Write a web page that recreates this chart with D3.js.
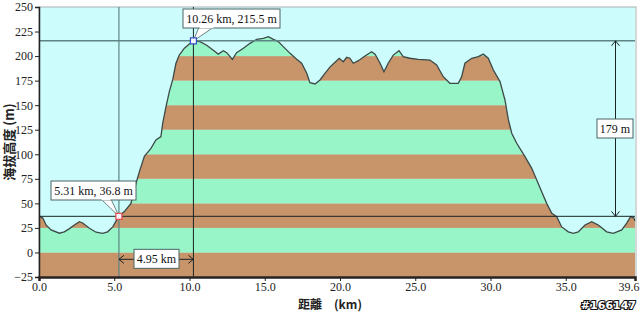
<!DOCTYPE html>
<html>
<head>
<meta charset="utf-8">
<script src="https://cdn.jsdelivr.net/npm/d3@7"></script>
<style>
  body { margin: 0; background: #fff; }
  svg text { font-family: "Liberation Serif", "DejaVu Serif", serif; }
</style>
</head>
<body>
<div id="chart"></div>
<script>
// distance (km) and elevation (m)
const distKm = [0, 0.25, 0.47, 0.8, 1.35, 1.68, 2.0, 2.35, 2.68, 2.9, 3.35, 3.79, 4.23, 4.56, 4.9, 5.23, 5.31, 5.67, 6.11, 6.45, 6.67, 7.0, 7.44, 7.77, 8.1, 8.22, 8.44, 8.66, 8.88, 9.1, 9.32, 9.66, 9.99, 10.26, 10.7, 11.14, 11.58, 11.91, 12.25, 12.47, 12.85, 13.13, 13.58, 14.02, 14.46, 14.9, 15.24, 15.57, 15.9, 16.23, 16.68, 17.12, 17.45, 17.79, 18.0, 18.34, 18.67, 19.0, 19.34, 19.67, 19.95, 20.22, 20.44, 20.66, 20.88, 21.22, 21.66, 22.1, 22.33, 22.66, 22.92, 23.2, 23.54, 23.92, 24.2, 24.65, 25.2, 25.98, 26.42, 26.86, 27.3, 27.86, 28.08, 28.3, 28.75, 29.19, 29.52, 29.85, 30.19, 30.63, 30.96, 31.19, 31.41, 31.74, 32.29, 32.74, 33.07, 33.4, 33.73, 34.07, 34.4, 34.73, 35.17, 35.5, 35.83, 36.28, 36.72, 37.16, 37.72, 38.16, 38.72, 39.05, 39.31, 39.53, 39.6];
const elevM = [37, 35, 28, 23, 19.6, 21, 24, 28, 31.4, 30, 24.6, 20.6, 19.5, 21, 26, 35, 36.8, 41.6, 50, 70.5, 82.3, 98, 106, 114.6, 118, 131.6, 148.5, 163.8, 175.7, 192.7, 201, 208, 212.3, 215.5, 214.7, 211, 206, 202, 205.5, 203.5, 196.7, 203.5, 208, 213, 217, 218, 219.8, 217, 214.7, 209.6, 202.8, 196.7, 192.7, 182.5, 173, 171.6, 175.7, 182.5, 189, 193.7, 197.8, 194.3, 198.8, 197.8, 192.7, 195.3, 200, 204.5, 202, 192.7, 184, 192.7, 201, 205.5, 199.4, 197.8, 196.7, 196, 191, 179, 172.3, 172.3, 179, 192.7, 197.8, 199.4, 202, 197.8, 185.8, 174, 155.3, 135, 121.4, 111.2, 97.6, 85.7, 73.8, 61.9, 50, 39.9, 36.5, 26, 21, 19.5, 21, 28, 31.4, 28, 21, 19.5, 23, 29.8, 36.5, 35, 32];

// colour bands (bottom edge of each 25 m band)
const bandStarts = [-25, 0, 25, 50, 75, 100, 125, 150, 175, 200, 225];
const bandColors = ["#c8946a", "#98f5c8"];

const yTicks = [-25, 0, 25, 50, 75, 100, 125, 150, 175, 200, 225, 250];
const xTicks = [0, 5, 10, 15, 20, 25, 30, 35, 39.6];

// the two picked points and the measurements between them
const pointA = { km: 5.31, m: 36.8, label: "5.31 km, 36.8 m", color: "#e04848" };
const pointB = { km: 10.26, m: 215.5, label: "10.26 km, 215.5 m", color: "#3050c8" };
const distLabel = "4.95 km";
const riseLabel = "179 m";

const W = 640, H = 313;
const margin = { top: 7, right: 5, bottom: 36, left: 39 };
const innerW = W - margin.left - margin.right;
const innerH = H - margin.top - margin.bottom;

const svg = d3.select("#chart").append("svg")
  .attr("width", W).attr("height", H);

const x = d3.scaleLinear().domain([0, 39.6]).range([margin.left, margin.left + innerW]);
const y = d3.scaleLinear().domain([-25, 250]).range([margin.top + innerH, margin.top]);

const profile = distKm.map((d, i) => ({ km: d, m: elevM[i] }));

// sky
svg.append("rect")
  .attr("x", x(0)).attr("y", y(250))
  .attr("width", x(39.6) - x(0)).attr("height", y(-25) - y(250))
  .attr("fill", "#ccfcfc");

// clip the bands to the ground under the profile
const area = d3.area().x(d => x(d.km)).y0(y(-25)).y1(d => y(d.m));
svg.append("clipPath").attr("id", "ground")
  .append("path").attr("d", area(profile));

svg.append("g").attr("clip-path", "url(#ground)")
  .selectAll("rect")
  .data(bandStarts)
  .enter().append("rect")
  .attr("x", x(0))
  .attr("width", x(39.6) - x(0))
  .attr("y", d => y(d + 25))
  .attr("height", d => y(d) - y(d + 25))
  .attr("fill", (d, i) => bandColors[i % 2]);

// profile line
svg.append("path")
  .datum(profile)
  .attr("fill", "none")
  .attr("stroke", "#3c4a48")
  .attr("stroke-width", 1.3)
  .attr("d", d3.line().x(d => x(d.km)).y(d => y(d.m)));

// frame
svg.append("rect")
  .attr("x", x(0)).attr("y", y(250))
  .attr("width", x(39.6) - x(0) + 1).attr("height", y(-25) - y(250))
  .attr("fill", "none").attr("stroke", "#a8b0b0");

// cursor lines
svg.append("line")
  .attr("x1", x(0)).attr("x2", x(39.6)).attr("y1", y(pointB.m)).attr("y2", y(pointB.m))
  .attr("stroke", "#5e8484").attr("stroke-width", 1.5);
svg.append("line")
  .attr("x1", x(pointA.km)).attr("x2", x(pointA.km)).attr("y1", y(250)).attr("y2", y(-25))
  .attr("stroke", "#5e8484").attr("stroke-width", 1.2);
svg.append("line")
  .attr("x1", x(0)).attr("x2", x(39.6)).attr("y1", y(pointA.m)).attr("y2", y(pointA.m))
  .attr("stroke", "#1a2424").attr("stroke-width", 1);
svg.append("line")
  .attr("x1", x(pointB.km)).attr("x2", x(pointB.km)).attr("y1", y(250)).attr("y2", y(-25))
  .attr("stroke", "#1a2424").attr("stroke-width", 1);

// axes
const yAxis = svg.append("g")
  .attr("transform", `translate(${x(0)},0)`)
  .call(d3.axisLeft(y).tickValues(yTicks).tickSize(4).tickPadding(2));
const xAxis = svg.append("g")
  .attr("transform", `translate(0,${y(-25)})`)
  .call(d3.axisBottom(x).tickValues(xTicks).tickSize(4).tickPadding(1)
    .tickFormat(d => d3.format(".1f")(d)));
[yAxis, xAxis].forEach(g => {
  g.selectAll("text").attr("fill", "#222").style("font-size", "12px")
    .style("font-family", "'Liberation Serif', serif");
  g.selectAll("line").attr("stroke", "#222");
});
yAxis.select(".domain").attr("stroke", "#222").attr("stroke-width", 1.5);
xAxis.select(".domain").attr("stroke", "#2a2020").attr("stroke-width", 2.5);
xAxis.select(".tick:last-of-type text").attr("text-anchor", "end").attr("dx", 4);

// axis titles
svg.append("text")
  .attr("transform", `translate(14,${(y(250) + y(-25)) / 2}) rotate(-90)`)
  .attr("text-anchor", "middle")
  .style("font-family", "'Noto Sans CJK TC', sans-serif")
  .style("font-size", "13px").style("font-weight", "bold")
  .attr("fill", "#222")
  .text("海拔高度 (m)");
svg.append("text")
  .attr("x", 330).attr("y", 309)
  .attr("text-anchor", "middle")
  .style("font-family", "'Noto Sans CJK TC', sans-serif")
  .style("font-size", "12px").style("font-weight", "bold")
  .attr("fill", "#222")
  .text("距離\u3000(km)");

// callout boxes with a tail down to the marker
function callout(p, bx, by, bw, bh, t1, t2) {
  const px = x(p.km), py = y(p.m);
  svg.append("path")
    .attr("d", `M${t1},${by + bh - 1}L${px},${py}L${t2},${by + bh - 1}`)
    .attr("fill", "#fff").attr("stroke", "#4c6464").attr("stroke-width", 0.8);
  svg.append("rect")
    .attr("x", bx).attr("y", by).attr("width", bw).attr("height", bh)
    .attr("fill", "#fff").attr("stroke", "#4c6464").attr("stroke-width", 1);
  svg.append("path")
    .attr("d", `M${t1 + 0.6},${by + bh - 0.5}L${t2 - 0.6},${by + bh - 0.5}`)
    .attr("stroke", "#fff").attr("stroke-width", 1.6);
  svg.append("text")
    .attr("x", bx + bw / 2).attr("y", by + bh / 2 + 4.5)
    .attr("text-anchor", "middle")
    .style("font-size", "12px").attr("fill", "#111")
    .text(p.label);
  svg.append("rect")
    .attr("x", px - 3).attr("y", py - 3).attr("width", 6).attr("height", 6)
    .attr("fill", "#f4f4ff").attr("stroke", p.color).attr("stroke-width", 1.2);
}
callout(pointB, 183, 9, 97, 19, 199, 214);
callout(pointA, 51, 181, 85, 19, 101, 111);

// dimension arrows
function arrowHead(x0, y0, dx, dy) {
  // open V pointing in direction (dx, dy)
  const s = 5, w = 4;
  const px = -dy, py = dx;
  return `M${x0 - dx * s + px * w},${y0 - dy * s + py * w}L${x0},${y0}L${x0 - dx * s - px * w},${y0 - dy * s - py * w}`;
}
const dimY = y(-7);
const ax = x(pointA.km), bxp = x(pointB.km);
svg.append("path")
  .attr("d", `M${ax},${dimY}L${bxp},${dimY}` + arrowHead(ax, dimY, -1, 0) + arrowHead(bxp, dimY, 1, 0))
  .attr("fill", "none").attr("stroke", "#1a2424").attr("stroke-width", 1);
svg.append("rect")
  .attr("x", 134).attr("y", dimY - 10).attr("width", 45).attr("height", 19)
  .attr("fill", "#fff").attr("stroke", "#4c6464");
svg.append("text")
  .attr("x", 156.5).attr("y", dimY + 4)
  .attr("text-anchor", "middle").style("font-size", "12px").attr("fill", "#111")
  .text(distLabel);

const dimX = 615.5;
const ya = y(pointA.m), yb = y(pointB.m);
svg.append("path")
  .attr("d", `M${dimX},${yb}L${dimX},${ya}` + arrowHead(dimX, yb, 0, -1) + arrowHead(dimX, ya, 0, 1))
  .attr("fill", "none").attr("stroke", "#1a2424").attr("stroke-width", 1);
svg.append("rect")
  .attr("x", 597).attr("y", 119).attr("width", 36).attr("height", 19)
  .attr("fill", "#fff").attr("stroke", "#4c6464");
svg.append("text")
  .attr("x", 615).attr("y", 133)
  .attr("text-anchor", "middle").style("font-size", "12px").attr("fill", "#111")
  .text(riseLabel);

// watermark
svg.append("text")
  .attr("x", 636).attr("y", 309)
  .attr("text-anchor", "end")
  .style("font-family", "'DejaVu Sans', sans-serif")
  .style("font-size", "11px").style("font-weight", "bold")
  .attr("fill", "#fff").attr("stroke", "#111").attr("stroke-width", 2.2)
  .attr("paint-order", "stroke")
  .text("#166147");
</script>
</body>
</html>
